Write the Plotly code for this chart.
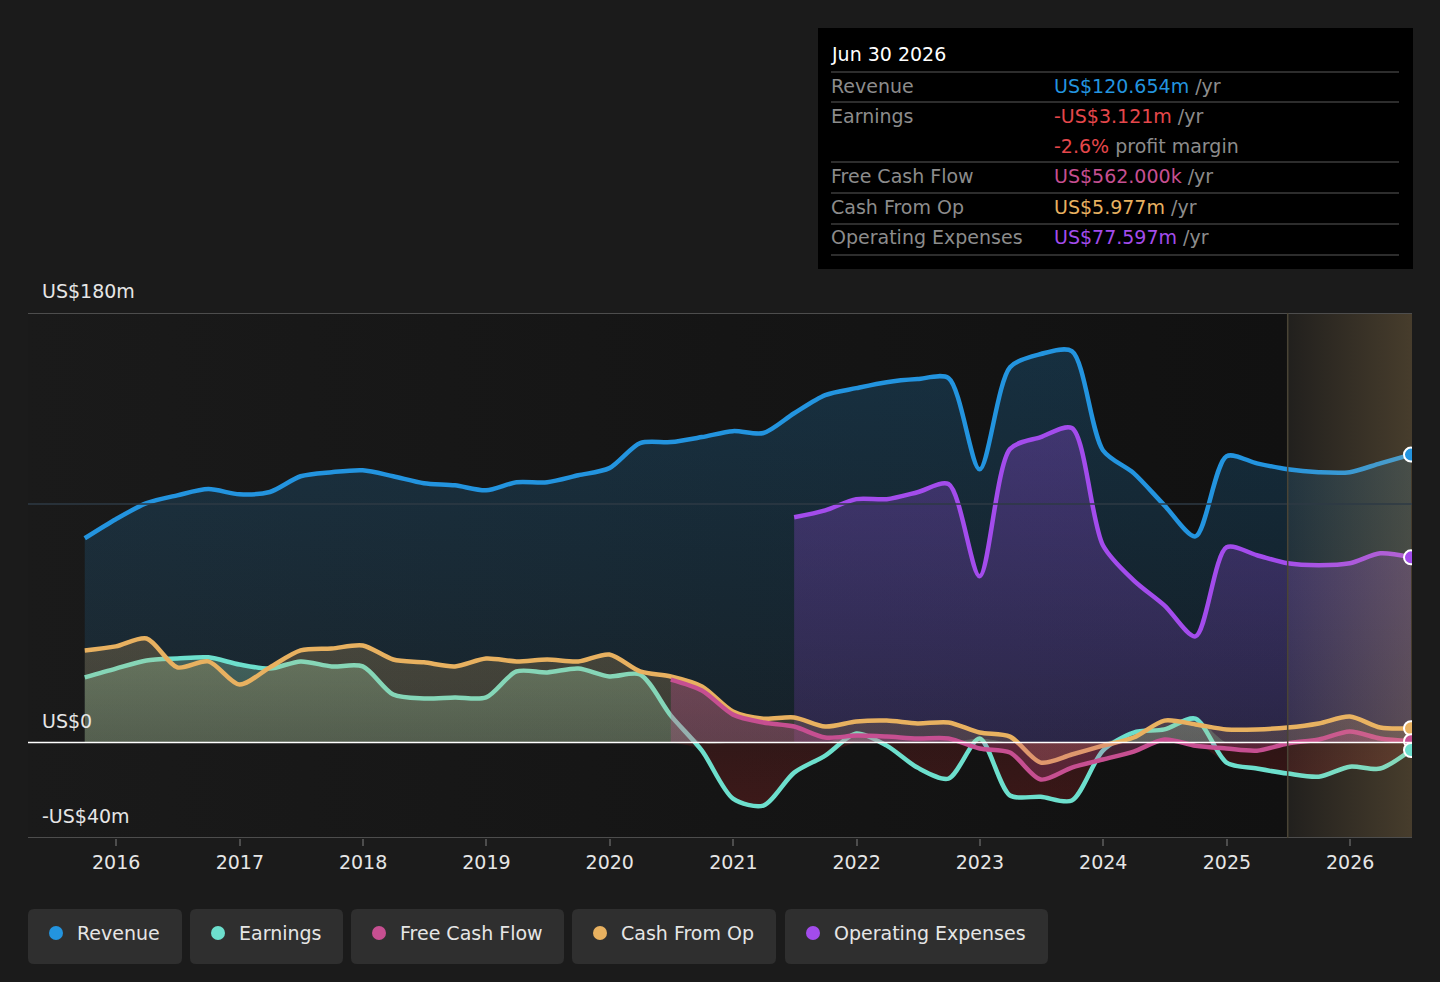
import numpy as np
import plotly.graph_objects as go

# --- data (US$ m, trailing twelve months, quarter ends) ---
dates = ["2015-09-30", "2015-12-31",
         "2016-03-31", "2016-06-30", "2016-09-30", "2016-12-31",
         "2017-03-31", "2017-06-30", "2017-09-30", "2017-12-31",
         "2018-03-31", "2018-06-30", "2018-09-30", "2018-12-31",
         "2019-03-31", "2019-06-30", "2019-09-30", "2019-12-31",
         "2020-03-31", "2020-06-30", "2020-09-30", "2020-12-31",
         "2021-03-31", "2021-06-30", "2021-09-30", "2021-12-31",
         "2022-03-31", "2022-06-30", "2022-09-30", "2022-12-31",
         "2023-03-31", "2023-06-30", "2023-09-30", "2023-12-31",
         "2024-03-31", "2024-06-30", "2024-09-30", "2024-12-31",
         "2025-03-31", "2025-06-30", "2025-09-30", "2025-12-31",
         "2026-03-31", "2026-06-30"]

revenue = [85.6, 93.6, 100.3, 103.6, 106.2, 104.0, 105.0, 111.6, 113.3, 114.1,
           111.6, 108.7, 107.8, 105.7, 109.1, 109.1, 112.0, 115.0, 125.5, 125.9,
           128.0, 130.5, 129.7, 138.0, 145.6, 148.5, 151.0, 152.3, 152.7, 114.5,
           157.3, 162.8, 164.0, 122.5, 112.9, 99.4, 86.4, 120.0, 117.0, 114.5,
           113.3, 113.3, 117.0, 120.654]

earnings = [27.3, 31.0, 34.4, 35.2, 35.7, 32.7, 31.0, 34.0, 31.9, 31.9,
            20.1, 18.5, 18.9, 18.9, 29.8, 29.4, 31.0, 27.7, 28.5, 11.3,
            -3.4, -23.5, -26.4, -12.6, -5.5, 3.8, -1.3, -10.5, -15.1, 1.7,
            -22.2, -22.7, -24.3, -3.4, 4.2, 5.5, 10.0, -8.4, -10.9, -13.0,
            -14.3, -10.1, -10.9, -3.121]

cash_from_op = [38.6, 40.3, 43.6, 31.5, 34.0, 24.3, 31.5, 38.6, 39.4, 40.7,
                34.8, 33.6, 31.9, 35.2, 34.0, 34.8, 34.0, 36.9, 29.8, 27.7,
                23.5, 13.0, 10.0, 10.5, 6.7, 8.8, 9.2, 8.0, 8.4, 4.2,
                2.5, -8.4, -5.0, -1.3, 2.1, 9.2, 7.6, 5.5, 5.5, 6.3,
                8.0, 10.9, 6.3, 5.977]

free_cash_flow = [None] * 19 + [26.4, 21.8, 11.7, 8.4, 6.7, 2.1, 2.9, 2.5, 1.7, 1.7,
                                -2.5, -4.2, -15.5, -10.5, -7.1, -3.8, 1.3, -1.3, -2.5, -3.4,
                                -0.4, 1.3, 4.6, 1.7, 0.562]

op_expenses = [None] * 23 + [94.4, 97.3, 102.0, 102.0, 104.9, 108.3, 69.7, 123.0, 128.0, 131.8,
                             82.7, 68.0, 57.5, 44.5, 81.8, 78.5, 75.1, 74.3, 75.1, 79.3,
                             77.597]

y_labels = {180: "US$180m", 0: "US$0", -40: "-US$40m"}
forecast_start = "2025-06-30"

C_REV, C_EARN, C_FCF, C_CFO, C_OPEX = "#2394df", "#6ddfcd", "#c64f91", "#e8b160", "#a34cec"
BG = "#1b1b1b"
FONT = "DejaVu Sans"

# pixel -> paper helpers (plot area 28..1412 x 313..838)
PL, PR, PT, PB = 28, 1412, 313, 838
def xp(px): return (px - PL) / (PR - PL)
def yp(py): return (PB - py) / (PB - PT)

fig = go.Figure()
SM = 0.8

def area(y, c0, c1, name):
    fig.add_trace(go.Scatter(x=dates, y=y, mode="lines", line=dict(width=0, shape="spline", smoothing=SM),
                             fill="tozeroy", fillgradient=dict(type="vertical", colorscale=[[0, c0], [1, c1]]),
                             hoverinfo="skip", showlegend=False, name=name))

def line(y, color, name, w=4.5):
    fig.add_trace(go.Scatter(x=dates, y=y, mode="lines", line=dict(color=color, width=w, shape="spline", smoothing=SM),
                             hoverinfo="skip", showlegend=False, name=name))

# past background gradient
fig.add_trace(go.Scatter(x=["2015-04-10", forecast_start, forecast_start, "2015-04-10", "2015-04-10"],
                         y=[-40, -40, 180, 180, -40], mode="lines", line=dict(width=0), fill="toself",
                         fillgradient=dict(type="horizontal", colorscale=[[0, "#1a1a1a"], [1, "#111111"]]),
                         hoverinfo="skip", showlegend=False))

area(revenue, "rgba(35,148,223,0.10)", "rgba(35,148,223,0.22)", "rev fill")
area(op_expenses, "rgba(163,76,236,0.16)", "rgba(163,76,236,0.30)", "opex fill")
earn = np.array(earnings)
area(np.maximum(earn, 0), "rgba(130,190,160,0.26)", "rgba(130,190,160,0.38)", "earn pos")
area(np.minimum(earn, 0), "rgba(200,40,40,0.22)", "rgba(200,40,40,0.16)", "earn neg")
line(earnings, C_EARN, "Earnings")
area(cash_from_op, "rgba(232,177,96,0.16)", "rgba(232,177,96,0.22)", "cfo fill")
line(cash_from_op, C_CFO, "Cash From Op")
area(free_cash_flow, "rgba(198,79,145,0.25)", "rgba(198,79,145,0.32)", "fcf fill")
line(free_cash_flow, C_FCF, "Free Cash Flow")
line(revenue, C_REV, "Revenue")
line(op_expenses, C_OPEX, "Operating Expenses")

# forecast overlay
fig.add_trace(go.Scatter(x=[forecast_start, "2026-07-10", "2026-07-10", forecast_start, forecast_start],
                         y=[-40, -40, 180, 180, -40], mode="lines", line=dict(width=0), fill="toself",
                         fillgradient=dict(type="horizontal",
                                           colorscale=[[0, "rgba(240,190,110,0.03)"], [1, "rgba(240,190,110,0.21)"]]),
                         hoverinfo="skip", showlegend=False))

# end markers
for y, c in [(revenue, C_REV), (op_expenses, C_OPEX), (cash_from_op, C_CFO),
             (free_cash_flow, C_FCF), (earnings, C_EARN)]:
    fig.add_trace(go.Scatter(x=[dates[-1]], y=[y[-1]], mode="markers",
                             marker=dict(size=14, color=c, line=dict(color="white", width=2)),
                             hoverinfo="skip", showlegend=False))

# horizontal reference lines
for v, col, w in [(180, "#4d4d4d", 2), (100, "#2e3a44", 1.5), (-40, "#4d4d4d", 2), (0, "#ffffff", 1.5)]:
    fig.add_shape(type="line", xref="paper", x0=0, x1=1, yref="y", y0=v, y1=v,
                  line=dict(color=col, width=w), layer="above")
fig.add_shape(type="line", xref="x", x0=forecast_start, x1=forecast_start, yref="y", y0=-40, y1=180,
              line=dict(color="#4a4436", width=1.5), layer="above")

for v, txt in y_labels.items():
    fig.add_annotation(x=xp(40), xref="paper", y=v, yref="y", text=txt, showarrow=False,
                       xanchor="left", yanchor="bottom", yshift=9,
                       font=dict(family=FONT, size=19, color="#e6e6e6"))

# tooltip box
fig.add_shape(type="rect", xref="paper", yref="paper", x0=xp(818), x1=xp(1413), y0=yp(269), y1=yp(28),
              fillcolor="#000000", line=dict(width=0), layer="above")
for sy in [72, 102, 162, 193, 224, 255]:
    fig.add_shape(type="line", xref="paper", yref="paper", x0=xp(831), x1=xp(1399), y0=yp(sy), y1=yp(sy),
                  line=dict(color="#3c3c3c", width=1.5), layer="above")

def tip(px, py, text, color, size=19):
    # annotation boxes pad the text by ~2px, so pull them left a little
    fig.add_annotation(x=xp(px - 2), y=yp(py), xref="paper", yref="paper", text=text, showarrow=False,
                       xanchor="left", yanchor="middle", font=dict(family=FONT, size=size, color=color))

GREY = "#8c8c8c"
tip(831, 54, "Jun 30 2026", "#ffffff")
rows = [(86, "Revenue", f"<span style='color:{C_REV}'>US$120.654m</span> /yr"),
        (116, "Earnings", "<span style='color:#e5474b'>-US$3.121m</span> /yr"),
        (146, "", "<span style='color:#e5474b'>-2.6%</span> profit margin"),
        (176, "Free Cash Flow", f"<span style='color:{C_FCF}'>US$562.000k</span> /yr"),
        (207, "Cash From Op", f"<span style='color:{C_CFO}'>US$5.977m</span> /yr"),
        (237, "Operating Expenses", f"<span style='color:{C_OPEX}'>US$77.597m</span> /yr")]
for ry, lab, val in rows:
    if lab:
        tip(831, ry, lab, GREY)
    tip(1054, ry, val, GREY)

# legend chips
def rrect(x0, y0, x1, y1, r):
    X = lambda v: xp(v)
    Y = lambda v: yp(v)
    return (f"M{X(x0 + r)},{Y(y0)} L{X(x1 - r)},{Y(y0)} Q{X(x1)},{Y(y0)} {X(x1)},{Y(y0 + r)} "
            f"L{X(x1)},{Y(y1 - r)} Q{X(x1)},{Y(y1)} {X(x1 - r)},{Y(y1)} "
            f"L{X(x0 + r)},{Y(y1)} Q{X(x0)},{Y(y1)} {X(x0)},{Y(y1 - r)} "
            f"L{X(x0)},{Y(y0 + r)} Q{X(x0)},{Y(y0)} {X(x0 + r)},{Y(y0)} Z")

legend = [("Revenue", C_REV, 28, 182), ("Earnings", C_EARN, 190, 343), ("Free Cash Flow", C_FCF, 351, 564),
          ("Cash From Op", C_CFO, 572, 776), ("Operating Expenses", C_OPEX, 785, 1048)]
for name, c, x0, x1 in legend:
    fig.add_shape(type="path", xref="paper", yref="paper", path=rrect(x0, 909, x1, 964, 6),
                  fillcolor="#2f2f2f", line=dict(width=0), layer="above")
    fig.add_shape(type="circle", xref="paper", yref="paper", x0=xp(x0 + 21), x1=xp(x0 + 35),
                  y0=yp(940), y1=yp(926), fillcolor=c, line=dict(width=0), layer="above")
    tip(x0 + 49, 933, name, "#e6e6e6")

fig.update_layout(
    width=1440, height=982, margin=dict(l=PL, r=1440 - PR, t=PT, b=982 - PB),
    paper_bgcolor=BG, plot_bgcolor=BG, font=dict(family=FONT, size=19, color="#e6e6e6"),
    showlegend=False,
    xaxis=dict(type="date", range=["2015-04-15", "2026-07-03"], showgrid=False, zeroline=False,
               tickformat="%Y", dtick="M12", tick0="2016-01-01", ticks="outside", ticklen=7,
               tickcolor="#4d4d4d", tickwidth=1.5, tickfont=dict(size=19, color="#e6e6e6"), showline=False),
    yaxis=dict(range=[-40, 180], showgrid=False, zeroline=False, showticklabels=False, showline=False),
)

fig.write_html("out.html", config={"displayModeBar": False},
               post_script="document.body.style.margin='0';document.body.style.background='#1b1b1b';")
